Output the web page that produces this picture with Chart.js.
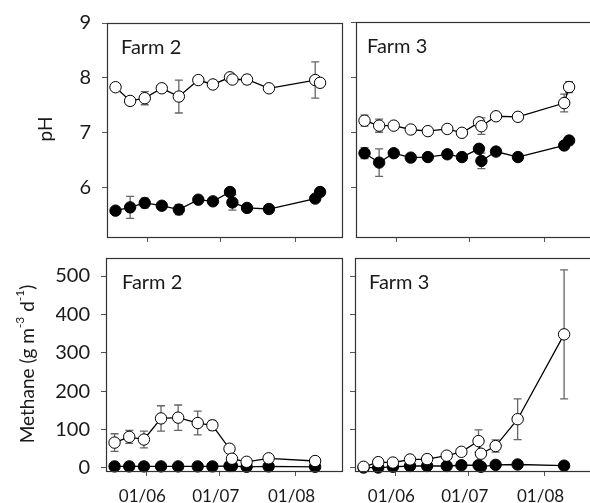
<!DOCTYPE html>
<html>
<head>
<meta charset="utf-8">
<script src="https://cdn.jsdelivr.net/npm/chart.js@4.4.1/dist/chart.umd.min.js"></script>
<style>
    html, body { margin: 0; padding: 0; background: #fff; overflow: hidden; }
    #wrap { position: relative; width: 590px; height: 503px; overflow: hidden; }
    #wrap canvas { position: absolute; left: 0; top: 0; }
    .ytitle {
        position: absolute;
        font-family: Lato, sans-serif;
        font-size: 19px;
        line-height: 1;
        color: #1a1a1a;
        white-space: nowrap;
        transform: translate(-50%, -50%) rotate(-90deg);
    }
    .ytitle sup { font-size: 12px; line-height: 0; position: relative; top: -3px; vertical-align: super; }
</style>
</head>
<body>
<div id="wrap">
    <canvas id="ph-farm2" width="600" height="503"></canvas>
    <canvas id="ph-farm3" width="600" height="503"></canvas>
    <canvas id="ch4-farm2" width="600" height="503"></canvas>
    <canvas id="ch4-farm3" width="600" height="503"></canvas>
    <div class="ytitle" style="left:44px; top:129px;">pH</div>
    <div class="ytitle" style="left:26px; top:364px;">Methane (g m<sup>-3</sup> d<sup>-1</sup>)</div>
</div>
<script>
// Оси и подписи
const tickDays = [152, 182, 213];
const tickLabels = ['01/06', '01/07', '01/08'];
const phTicks = [6, 7, 8, 9];
const methaneTicks = [0, 100, 200, 300, 400, 500];

// Даты отбора проб (ММ-ДД -> день года)
const phDates = ['05-19', '05-25', '05-31', '06-07', '06-14', '06-22', '06-28', '07-05', '07-06', '07-12', '07-21', '08-09', '08-11'];
const methaneDates = ['05-19', '05-25', '05-31', '06-07', '06-14', '06-22', '06-28', '07-05', '07-06', '07-12', '07-21', '08-09'];

// pH, ферма 2
const farm2PhOpen = [7.83, 7.58, 7.63, 7.81, 7.66, 7.96, 7.88, 8.01, 7.97, 7.97, 7.81, 7.96, 7.91];
const farm2PhOpenErr = [0, 0.03, 0.12, 0, 0.3, 0, 0, 0, 0, 0.08, 0, 0.33, 0];
const farm2PhFilled = [5.58, 5.64, 5.72, 5.67, 5.60, 5.78, 5.75, 5.92, 5.73, 5.63, 5.61, 5.80, 5.92];
const farm2PhFilledErr = [0, 0.2, 0.09, 0, 0.09, 0, 0, 0, 0.14, 0.05, 0, 0.04, 0];

// pH, ферма 3
const farm3PhOpen = [7.21, 7.12, 7.12, 7.05, 7.02, 7.06, 6.99, 7.18, 7.11, 7.29, 7.28, 7.53, 7.82];
const farm3PhOpenErr = [0.1, 0.12, 0, 0, 0, 0, 0, 0.06, 0.15, 0, 0, 0.16, 0.1];
const farm3PhFilled = [6.62, 6.45, 6.62, 6.54, 6.55, 6.60, 6.55, 6.70, 6.48, 6.65, 6.55, 6.76, 6.85];
const farm3PhFilledErr = [0.1, 0.25, 0, 0, 0, 0, 0, 0, 0.14, 0, 0, 0, 0.03];

// Метан, ферма 2
const farm2MethaneOpen = [66, 81, 74, 129, 131, 117, 111, 50, 24, 16, 25, 18];
const farm2MethaneOpenErr = [23, 17, 22, 33, 33, 31, 13, 0, 0, 0, 0, 0];
const farm2MethaneFilled = [4, 4, 4, 4, 4, 4, 4, 5, 5, 3, 4, 3];

// Метан, ферма 3
const farm3MethaneOpen = [3, 15, 14, 22, 23, 32, 42, 70, 37, 57, 127, 348];
const farm3MethaneOpenErr = [0, 0, 0, 0, 0, 0, 0, 29, 0, 16, 53, 168];
const farm3MethaneFilled = [1, 1, 3, 5, 5, 5, 7, 7, 3, 8, 9, 6];

const monthStart = [0, 31, 59, 90, 120, 151, 181, 212, 243];
function dayOfYear(md) {
    const [m, d] = md.split('-').map(Number);
    return monthStart[m - 1] + d;
}

function toPoints(dates, values) {
    return values.map((v, i) => ({ x: dayOfYear(dates[i]), y: v }));
}

const FONT = 'Lato, sans-serif';
const INK = '#1a1a1a';

// Планки погрешностей
const errorBarsPlugin = {
    id: 'errorBars',
    beforeDatasetsDraw(chart) {
        const ctx = chart.ctx;
        const xs = chart.scales.x, ys = chart.scales.y;
        ctx.save();
        ctx.strokeStyle = '#666';
        ctx.lineWidth = 1.3;
        chart.data.datasets.forEach(ds => {
            if (!ds.errors) return;
            ds.data.forEach((p, i) => {
                const e = ds.errors[i];
                if (!e) return;
                const px = xs.getPixelForValue(p.x);
                const y1 = ys.getPixelForValue(p.y + e);
                const y2 = ys.getPixelForValue(p.y - e);
                ctx.beginPath();
                ctx.moveTo(px, y1); ctx.lineTo(px, y2);
                ctx.moveTo(px - 4, y1); ctx.lineTo(px + 4, y1);
                ctx.moveTo(px - 4, y2); ctx.lineTo(px + 4, y2);
                ctx.stroke();
            });
        });
        ctx.restore();
    }
};

// Рамка и подпись фермы
const frameLabelPlugin = {
    id: 'frameLabel',
    afterDraw(chart, args, opts) {
        const a = chart.chartArea;
        const ctx = chart.ctx;
        ctx.save();
        ctx.strokeStyle = '#333';
        ctx.lineWidth = 1.2;
        ctx.strokeRect(Math.round(a.left) + 0.5, Math.round(a.top) + 0.5,
            Math.round(a.right - a.left), Math.round(a.bottom - a.top));
        ctx.fillStyle = INK;
        ctx.font = '20px ' + FONT;
        ctx.textBaseline = 'alphabetic';
        ctx.fillText(opts.text, a.left + opts.dx, a.top + opts.dy);
        ctx.restore();
    }
};

function lineDataset(points, filled, errors) {
    return {
        data: points,
        errors: errors,
        borderColor: '#000',
        borderWidth: 1.3,
        tension: 0,
        pointRadius: 5.7,
        pointBorderWidth: 1,
        pointBorderColor: '#000',
        pointBackgroundColor: filled ? '#000' : '#fff',
        clip: false
    };
}

function makeChart(id, cfg) {
    const yTicks = cfg.yTicks;
    return new Chart(document.getElementById(id), {
        type: 'line',
        data: { datasets: cfg.datasets },
        plugins: [errorBarsPlugin, frameLabelPlugin],
        options: {
            responsive: false,
            animation: false,
            events: [],
            layout: { padding: cfg.padding },
            plugins: {
                legend: { display: false },
                tooltip: { enabled: false },
                frameLabel: { text: cfg.label, dx: cfg.labelDx, dy: 31 }
            },
            scales: {
                x: {
                    type: 'linear',
                    min: 135.5,
                    max: 232,
                    afterBuildTicks: s => { s.ticks = tickDays.map(v => ({ value: v })); },
                    afterFit: s => { s.height = cfg.xHeight; },
                    grid: { drawOnChartArea: false, tickLength: 5, color: '#555', lineWidth: 1 },
                    border: { display: false },
                    ticks: {
                        display: cfg.xLabels,
                        padding: 10,
                        labelOffset: -4,
                        maxRotation: 0,
                        color: INK,
                        font: { family: FONT, size: 17 },
                        callback: v => tickLabels[tickDays.indexOf(v)]
                    }
                },
                y: {
                    min: cfg.yMin,
                    max: cfg.yMax,
                    afterBuildTicks: s => { s.ticks = yTicks.map(v => ({ value: v })); },
                    afterFit: s => { s.width = 50; },
                    grid: { drawOnChartArea: false, tickLength: 5, color: '#555', lineWidth: 1 },
                    border: { display: false },
                    ticks: {
                        display: cfg.yLabels,
                        padding: 11,
                        color: INK,
                        font: { family: FONT, size: 20 }
                    }
                }
            }
        }
    });
}

// pH, ферма 2
makeChart('ph-farm2', {
    label: 'Farm 2', labelDx: 14,
    padding: { left: 57, right: 258, top: 22, bottom: 256 },
    xHeight: 10, xLabels: false, yLabels: true,
    yMin: 5.1, yMax: 9, yTicks: phTicks,
    datasets: [
        lineDataset(toPoints(phDates, farm2PhOpen), false, farm2PhOpenErr),
        lineDataset(toPoints(phDates, farm2PhFilled), true, farm2PhFilledErr)
    ]
});

// pH, ферма 3
makeChart('ph-farm3', {
    label: 'Farm 3', labelDx: 11,
    padding: { left: 306, right: 9, top: 22, bottom: 256 },
    xHeight: 10, xLabels: false, yLabels: false,
    yMin: 5.1, yMax: 9, yTicks: phTicks,
    datasets: [
        lineDataset(toPoints(phDates, farm3PhOpen), false, farm3PhOpenErr),
        lineDataset(toPoints(phDates, farm3PhFilled), true, farm3PhFilledErr)
    ]
});

// Метан, ферма 2
makeChart('ch4-farm2', {
    label: 'Farm 2', labelDx: 16,
    padding: { left: 56, right: 258, top: 258, bottom: 0 },
    xHeight: 32, xLabels: true, yLabels: true,
    yMin: -8, yMax: 547, yTicks: methaneTicks,
    datasets: [
        lineDataset(toPoints(methaneDates, farm2MethaneOpen), false, farm2MethaneOpenErr),
        lineDataset(toPoints(methaneDates, farm2MethaneFilled), true, null)
    ]
});

// Метан, ферма 3
makeChart('ch4-farm3', {
    label: 'Farm 3', labelDx: 14,
    padding: { left: 305, right: 9, top: 258, bottom: 0 },
    xHeight: 32, xLabels: true, yLabels: false,
    yMin: -8, yMax: 547, yTicks: methaneTicks,
    datasets: [
        lineDataset(toPoints(methaneDates, farm3MethaneOpen), false, farm3MethaneOpenErr),
        lineDataset(toPoints(methaneDates, farm3MethaneFilled), true, null)
    ]
});
</script>
</body>
</html>
